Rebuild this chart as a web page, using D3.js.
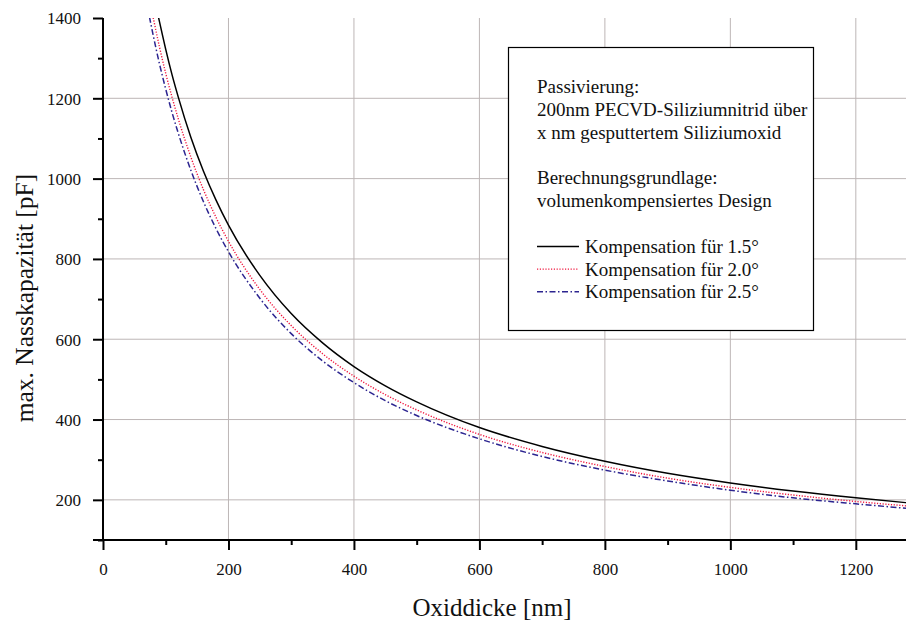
<!DOCTYPE html>
<html>
<head>
<meta charset="utf-8">
<script src="https://cdn.jsdelivr.net/npm/d3@7"></script>
<style>
  html, body { margin: 0; padding: 0; background: #fff; }
  svg { display: block; }
  text { font-family: "Liberation Serif", "Times New Roman", serif; fill: #111; }
</style>
</head>
<body>
<svg id="chart" width="906" height="625"></svg>
<script>
// Oxide thickness [nm] at which each curve is sampled
const thickness15 = [88, 90, 100, 110, 120, 140, 160, 180, 200, 250, 300, 350, 400, 450, 500, 600, 700, 800, 900, 1000, 1100, 1200, 1280];
const thickness20 = [80, 90, 100, 110, 120, 140, 160, 180, 200, 250, 300, 350, 400, 450, 500, 600, 700, 800, 900, 1000, 1100, 1200, 1280];
const thickness25 = [74, 80, 90, 100, 110, 120, 140, 160, 180, 200, 250, 300, 350, 400, 450, 500, 600, 700, 800, 900, 1000, 1100, 1200, 1280];

// Max. wet capacitance [pF]
const cap15 = [1405, 1391, 1322, 1259, 1203, 1103, 1019, 947, 884, 759, 664, 591, 532, 484, 444, 380, 333, 296, 266, 242, 222, 205, 193];
const cap20 = [1401, 1328, 1262, 1203, 1149, 1054, 973, 904, 844, 724, 634, 564, 508, 462, 424, 363, 318, 283, 254, 231, 212, 196, 185];
const cap25 = [1403, 1357, 1286, 1223, 1165, 1113, 1021, 943, 876, 818, 702, 614, 546, 492, 447, 410, 352, 308, 274, 247, 224, 205, 190, 179];

const seriesLabels = ["Kompensation für 1.5°", "Kompensation für 2.0°", "Kompensation für 2.5°"];
const xTicks = [0, 200, 400, 600, 800, 1000, 1200];
const yTicks = [200, 400, 600, 800, 1000, 1200, 1400];
const noteLines = [
  "Passivierung:",
  "200nm PECVD-Siliziumnitrid über",
  "x nm gesputtertem Siliziumoxid",
  "",
  "Berechnungsgrundlage:",
  "volumenkompensiertes Design"
];

const svg = d3.select("#chart");
const plotLeft = 103, plotRight = 906, plotTop = 18, plotBottom = 540;

const x = d3.scaleLinear().domain([0, 1280]).range([plotLeft, plotRight]);
const y = d3.scaleLinear().domain([100, 1400]).range([plotBottom, plotTop]);

const styles = [
  { stroke: "#000000", width: 1.5, dash: null },
  { stroke: "#f0143c", width: 1.4, dash: "1.2,1.6" },
  { stroke: "#2c2490", width: 1.5, dash: "6,2.5,1.5,2.5" }
];

// Grid
const grid = svg.append("g");
grid.selectAll("line.v").data(xTicks.filter(d => d > 0)).join("line")
  .attr("x1", d => x(d)).attr("x2", d => x(d))
  .attr("y1", plotTop).attr("y2", plotBottom)
  .attr("stroke", "#bdb6b6").attr("stroke-width", 1);
grid.selectAll("line.h").data(yTicks.filter(d => d < 1400)).join("line")
  .attr("x1", plotLeft).attr("x2", plotRight)
  .attr("y1", d => y(d)).attr("y2", d => y(d))
  .attr("stroke", "#bdb6b6").attr("stroke-width", 1);

// Curves
svg.append("clipPath").attr("id", "plotclip")
  .append("rect").attr("x", plotLeft).attr("y", plotTop)
  .attr("width", plotRight - plotLeft).attr("height", plotBottom - plotTop);

const series = [
  d3.zip(thickness15, cap15),
  d3.zip(thickness20, cap20),
  d3.zip(thickness25, cap25)
];
const line = d3.line().x(d => x(d[0])).y(d => y(d[1])).curve(d3.curveMonotoneX);
const curves = svg.append("g").attr("clip-path", "url(#plotclip)");
series.forEach((s, i) => {
  curves.append("path").datum(s)
    .attr("d", line)
    .attr("fill", "none")
    .attr("stroke", styles[i].stroke)
    .attr("stroke-width", styles[i].width)
    .attr("stroke-dasharray", styles[i].dash);
});

// Axes
const xAxis = svg.append("g").attr("transform", `translate(0,${plotBottom})`);
xAxis.call(d3.axisBottom(x).tickValues(d3.range(0, 1281, 100)).tickSize(0).tickFormat(""));
xAxis.select(".domain").remove();
xAxis.selectAll(".tick line").attr("y2", d => d % 200 === 0 ? 10 : 5).attr("stroke", "#000").attr("stroke-width", 2);
xAxis.append("line").attr("x1", plotLeft - 10).attr("x2", plotRight).attr("stroke", "#000").attr("stroke-width", 2);
xAxis.selectAll(".tick").filter(d => d % 200 === 0).append("text")
  .attr("y", 35).attr("text-anchor", "middle")
  .style("font-size", "17px").text(d => d);

const yAxis = svg.append("g").attr("transform", `translate(${plotLeft},0)`);
yAxis.call(d3.axisLeft(y).tickValues(d3.range(100, 1401, 100)).tickSize(0).tickFormat(""));
yAxis.select(".domain").remove();
yAxis.selectAll(".tick line").attr("x2", d => d % 200 === 0 ? -10 : -5).attr("stroke", "#000").attr("stroke-width", 2);
yAxis.append("line").attr("y1", plotTop).attr("y2", plotBottom + 1).attr("stroke", "#000").attr("stroke-width", 2);
yAxis.selectAll(".tick").filter(d => d % 200 === 0).append("text")
  .attr("x", -22).attr("dy", "0.35em").attr("text-anchor", "end")
  .style("font-size", "17px").text(d => d);

// Axis titles
svg.append("text").attr("x", 492).attr("y", 616).attr("text-anchor", "middle")
  .style("font-size", "25px").text("Oxiddicke [nm]");
svg.append("text").attr("transform", "translate(33,298) rotate(-90)").attr("text-anchor", "middle")
  .style("font-size", "25.5px").text("max. Nasskapazität [pF]");

// Legend / note box
const box = svg.append("g");
box.append("rect").attr("x", 508.5).attr("y", 47.5).attr("width", 305).attr("height", 283)
  .attr("fill", "#fff").attr("stroke", "#000").attr("stroke-width", 1.2);
noteLines.forEach((t, i) => {
  box.append("text").attr("x", 537).attr("y", 93 + i * 22.8)
    .style("font-size", "19px").text(t);
});
seriesLabels.forEach((t, i) => {
  const yy = 246.5 + i * 22.6;
  box.append("line").attr("x1", 537).attr("x2", 579).attr("y1", yy).attr("y2", yy)
    .attr("stroke", styles[i].stroke).attr("stroke-width", styles[i].width)
    .attr("stroke-dasharray", styles[i].dash);
  box.append("text").attr("x", 585).attr("y", yy + 6.5)
    .style("font-size", "19px").text(t);
});
</script>
</body>
</html>
